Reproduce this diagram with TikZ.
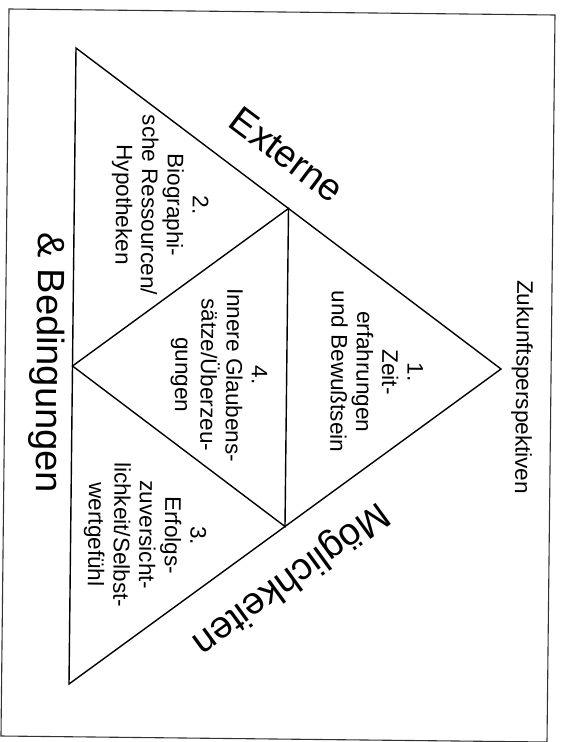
\documentclass[tikz,border=0pt]{standalone}
\usepackage{fontspec}
\setmainfont{Liberation Sans}
\usetikzlibrary{calc}
\begin{document}
\begin{tikzpicture}[x=1pt,y=-1pt,
  tri/.style={draw=black,line width=1.4pt,line join=miter},
  frame/.style={draw=black!80,line width=1.1pt},
  body/.style={rotate=-90.6,align=center,inner sep=0pt,font=\fontsize{22.5}{25.5}\selectfont},
  big/.style={inner sep=0pt,font=\fontsize{38}{44}\selectfont}]
\useasboundingbox (0,0) rectangle (560,742);
\clip (0,0) rectangle (560,742);
% frame
\coordinate (f1) at (9,9);
\coordinate (f2) at (555,15);
\coordinate (f3) at (547,742);
\coordinate (f4) at (1,736);
\draw[frame] (f1) -- (f2) -- (f3) -- (f4) -- cycle;
% triangle
\coordinate (A) at (76,48);
\coordinate (B) at (69,684);
\coordinate (C) at (501,369);
\coordinate (mAC) at ($(A)!0.5!(C)$);
\coordinate (mBC) at ($(B)!0.5!(C)$);
\coordinate (mAB) at ($(A)!0.5!(B)$);
\draw[tri] (A) -- (C) -- (B) -- cycle;
\draw[tri] (mAC) -- (mBC) -- (mAB) -- cycle;
% texts
\node[body] (t1) at (377,372) {1.\\Zeit-\\erfahrungen\\und Bewußtsein};
\node[body] (t4) at (219,375) {4.\\Innere Glaubens-\\sätze/Überzeu-\\gungen};
\node[body] (t2) at (160,205) {2.\\Biographi-\\sche Ressourcen/\\Hypotheken};
\node[body] (t3) at (145,535) {3.\\Erfolgs-\\zuversicht-\\lichkeit/Selbst-\\wertgefühl};
\node[body] (zuk) at (522,387) {Zukunftsperspektiven};
\node[big,rotate=-90.6] (bed) at (47,363) {\& Bedingungen};
\node[big,rotate=-36.9] (ext) at (287,155) {Externe};
\node[big,rotate=216.1] (moeg) at (290,578) {Möglichkeiten};
\end{tikzpicture}
\end{document}
